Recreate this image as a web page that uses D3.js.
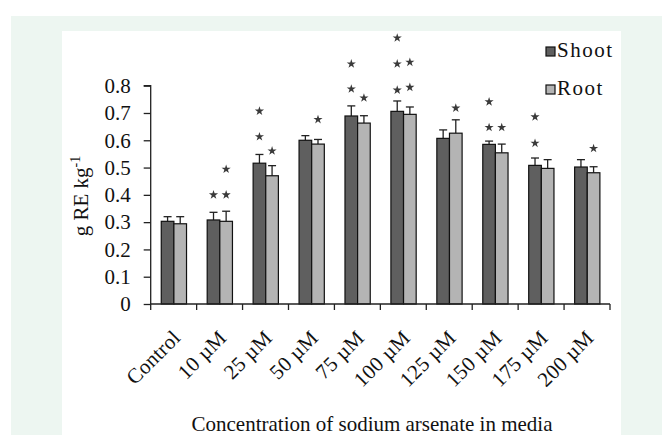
<!DOCTYPE html>
<html>
<head>
<meta charset="utf-8">
<script src="https://cdn.jsdelivr.net/npm/d3@7"></script>
<style>
  body { margin: 0; background: #fff; }
  svg text { font-family: "Liberation Serif", "Times New Roman", serif !important; fill: #111; }
</style>
</head>
<body>
<div id="chart"></div>
<script>
// chart data
var categories = ["Control", "10 \u00b5M", "25 \u00b5M", "50 \u00b5M", "75 \u00b5M", "100 \u00b5M", "125 \u00b5M", "150 \u00b5M", "175 \u00b5M", "200 \u00b5M"];
var seriesNames = ["Shoot", "Root"];
var shoot    = [0.303, 0.308, 0.516, 0.600, 0.689, 0.706, 0.607, 0.585, 0.508, 0.502];
var shootErr = [0.017, 0.028, 0.032, 0.017, 0.037, 0.038, 0.031, 0.012, 0.027, 0.027];
var root     = [0.294, 0.303, 0.470, 0.586, 0.663, 0.695, 0.626, 0.554, 0.497, 0.481];
var rootErr  = [0.026, 0.037, 0.037, 0.017, 0.027, 0.027, 0.049, 0.032, 0.032, 0.022];
var yTicks = [0, 0.1, 0.2, 0.3, 0.4, 0.5, 0.6, 0.7, 0.8];
var yTickLabels = ["0", "0.1", "0.2", "0.3", "0.4", "0.5", "0.6", "0.7", "0.8"];
// significance stars: [category, series, level]
var stars = [
  ["10 \u00b5M", "Shoot", 0.40], ["10 \u00b5M", "Root", 0.40], ["10 \u00b5M", "Root", 0.494],
  ["25 \u00b5M", "Shoot", 0.613], ["25 \u00b5M", "Shoot", 0.707], ["25 \u00b5M", "Root", 0.561],
  ["50 \u00b5M", "Root", 0.676],
  ["75 \u00b5M", "Shoot", 0.788], ["75 \u00b5M", "Shoot", 0.88], ["75 \u00b5M", "Root", 0.755],
  ["100 \u00b5M", "Shoot", 0.784], ["100 \u00b5M", "Shoot", 0.88], ["100 \u00b5M", "Shoot", 0.975],
  ["100 \u00b5M", "Root", 0.794], ["100 \u00b5M", "Root", 0.886],
  ["125 \u00b5M", "Root", 0.718],
  ["150 \u00b5M", "Shoot", 0.647], ["150 \u00b5M", "Shoot", 0.741], ["150 \u00b5M", "Root", 0.647],
  ["175 \u00b5M", "Shoot", 0.589], ["175 \u00b5M", "Shoot", 0.686],
  ["200 \u00b5M", "Root", 0.570]
];

var W = 662, H = 435;
var colors = {Shoot: "#5f5f5f", Root: "#b4b4b4"};

var svg = d3.select("#chart").append("svg")
    .attr("width", W)
    .attr("height", H);

// background panels
svg.append("rect").attr("x", 11).attr("y", 16).attr("width", W - 11).attr("height", H - 16).attr("fill", "#edf6f1");
svg.append("rect").attr("x", 62).attr("y", 31).attr("width", 559).attr("height", H - 31).attr("fill", "#fff");

var x = d3.scaleBand().domain(categories).range([150.7, 610]).padding(0);
var bw = x.bandwidth();
var xs = d3.scaleBand().domain(seriesNames).range([bw * 0.23, bw * 0.78]);
var y = d3.scaleLinear().domain([0, 0.8]).range([304, 85.7]);

var rows = [];
categories.forEach(function(c, i) {
  rows.push({cat: c, s: "Shoot", v: shoot[i], e: shootErr[i]});
  rows.push({cat: c, s: "Root", v: root[i], e: rootErr[i]});
});

var g = svg.append("g");

// error bars (upper only)
var eb = g.selectAll(".err").data(rows).enter().append("g").attr("class", "err")
    .attr("stroke", "#222").attr("stroke-width", 1.3);
eb.append("line")
    .attr("x1", function(d) { return x(d.cat) + xs(d.s) + xs.bandwidth() / 2; })
    .attr("x2", function(d) { return x(d.cat) + xs(d.s) + xs.bandwidth() / 2; })
    .attr("y1", function(d) { return y(d.v); })
    .attr("y2", function(d) { return y(d.v + d.e); });
eb.append("line")
    .attr("x1", function(d) { return x(d.cat) + xs(d.s) + xs.bandwidth() / 2 - 4; })
    .attr("x2", function(d) { return x(d.cat) + xs(d.s) + xs.bandwidth() / 2 + 4; })
    .attr("y1", function(d) { return y(d.v + d.e); })
    .attr("y2", function(d) { return y(d.v + d.e); });

// bars
g.selectAll(".bar").data(rows).enter().append("rect")
    .attr("class", "bar")
    .attr("x", function(d) { return x(d.cat) + xs(d.s); })
    .attr("y", function(d) { return y(d.v); })
    .attr("width", xs.bandwidth())
    .attr("height", function(d) { return y(0) - y(d.v); })
    .attr("fill", function(d) { return colors[d.s]; })
    .attr("stroke", "#111")
    .attr("stroke-width", 1.2);

// stars
g.selectAll(".star").data(stars).enter().append("path")
    .attr("class", "star")
    .attr("d", d3.symbol(d3.symbolStar, 26))
    .attr("transform", function(d) {
      return "translate(" + (x(d[0]) + xs(d[1]) + xs.bandwidth() / 2) + "," + y(d[2]) + ")";
    })
    .attr("fill", "#3a3a3a");

// y axis
var yAxis = svg.append("g")
    .attr("transform", "translate(" + 150.7 + ",0)")
    .call(d3.axisLeft(y).tickValues(yTicks).tickFormat(function(d, i) { return yTickLabels[i]; })
      .tickSize(7).tickPadding(13));
yAxis.attr("font-family", null);
yAxis.select(".domain").attr("d", "M-7," + y(0.8) + "H0V" + (y(0) + 6));
yAxis.selectAll("text").style("font-size", "21px");
yAxis.selectAll("line, path").attr("stroke", "#222").attr("stroke-width", 1.3);

// x axis
var xAxis = svg.append("g")
    .attr("transform", "translate(0," + y(0) + ")")
    .call(d3.axisBottom(x).tickSize(0).tickFormat(""));
xAxis.attr("font-family", null);
xAxis.select(".domain").attr("d", "M150.7,0H610").attr("stroke", "#222").attr("stroke-width", 1.3);
xAxis.selectAll(".tick").remove();
xAxis.selectAll(".xt").data(categories).enter().append("line")
    .attr("x1", function(d) { return x(d) + bw; })
    .attr("x2", function(d) { return x(d) + bw; })
    .attr("y1", 0).attr("y2", 6)
    .attr("stroke", "#222").attr("stroke-width", 1.3);
xAxis.selectAll(".xl").data(categories).enter().append("text")
    .attr("transform", function(d) { return "translate(" + (x(d) + bw / 2 + 8) + ",35) rotate(-45)"; })
    .attr("text-anchor", "end")
    .style("font-size", "21px")
    .style("letter-spacing", "0.3px")
    .text(function(d) { return d; });

// axis titles
var yt = svg.append("text")
    .attr("transform", "translate(88,196) rotate(-90)")
    .attr("text-anchor", "middle")
    .style("font-size", "21px");
yt.append("tspan").text("g RE kg");
yt.append("tspan").attr("dy", -8).style("font-size", "14px").text("-1");

svg.append("text")
    .attr("x", 372).attr("y", 431)
    .attr("text-anchor", "middle")
    .style("font-size", "21px")
    .text("Concentration of sodium arsenate in media");

// legend
var leg = svg.selectAll(".leg").data(seriesNames).enter().append("g")
    .attr("transform", function(d, i) { return "translate(546," + (47 + i * 38) + ")"; });
leg.append("rect").attr("width", 9).attr("height", 9)
    .attr("fill", function(d) { return colors[d]; })
    .attr("stroke", "#111").attr("stroke-width", 1.2);
leg.append("text").attr("x", 11).attr("y", 10)
    .style("font-size", "21px").style("letter-spacing", "1.5px")
    .text(function(d) { return d; });
</script>
</body>
</html>
